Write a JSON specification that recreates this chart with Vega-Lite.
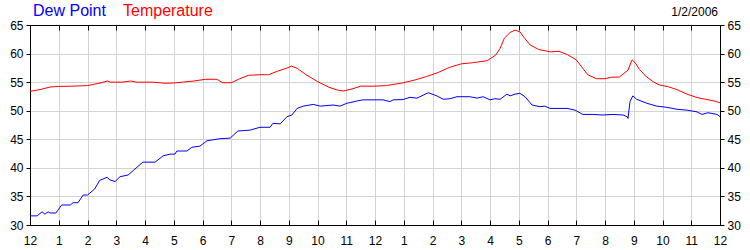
{
  "$schema": "https://vega.github.io/schema/vega-lite/v6.json",
  "width": 690,
  "height": 200,
  "autosize": {"type": "none"},
  "padding": {"left": 30, "top": 25, "right": 30, "bottom": 25},
  "background": "white",
  "title": {"text": "1/2/2006", "anchor": "end", "frame": "group", "fontSize": 12, "font": "Liberation Sans", "fontWeight": "normal", "color": "black", "offset": 8, "dy": 24, "dx": -2},
  "config": {
    "view": {"stroke": "black", "strokeWidth": 1},
    "axis": {"labelFont": "Liberation Sans", "labelFontSize": 12, "labelColor": "black", "domainColor": "black", "tickColor": "black", "gridColor": "#d3d3d3", "title": null, "labelFlush": false, "labelOverlap": false}
  },
  "data": {"values": [
    {"s":"Temperature","h":0,"v":53.4},{"s":"Temperature","h":0.35,"v":53.7},{"s":"Temperature","h":0.7,"v":54.15},{"s":"Temperature","h":1.0,"v":54.25},{"s":"Temperature","h":1.5,"v":54.3},{"s":"Temperature","h":2.0,"v":54.4},{"s":"Temperature","h":2.4,"v":54.8},{"s":"Temperature","h":2.7,"v":55.2},{"s":"Temperature","h":2.8,"v":55.0},{"s":"Temperature","h":3.2,"v":55.0},{"s":"Temperature","h":3.5,"v":55.2},{"s":"Temperature","h":3.7,"v":55.0},{"s":"Temperature","h":4.3,"v":55.0},{"s":"Temperature","h":4.7,"v":54.8},{"s":"Temperature","h":5.0,"v":54.85},{"s":"Temperature","h":5.3,"v":55.0},{"s":"Temperature","h":5.7,"v":55.2},{"s":"Temperature","h":6.1,"v":55.5},{"s":"Temperature","h":6.5,"v":55.5},{"s":"Temperature","h":6.7,"v":54.9},{"s":"Temperature","h":7.0,"v":54.9},{"s":"Temperature","h":7.3,"v":55.6},{"s":"Temperature","h":7.6,"v":56.2},{"s":"Temperature","h":8.0,"v":56.3},{"s":"Temperature","h":8.3,"v":56.3},{"s":"Temperature","h":8.6,"v":56.9},{"s":"Temperature","h":8.9,"v":57.4},{"s":"Temperature","h":9.1,"v":57.8},{"s":"Temperature","h":9.3,"v":57.4},{"s":"Temperature","h":9.6,"v":56.3},{"s":"Temperature","h":10.0,"v":55.1},{"s":"Temperature","h":10.4,"v":54.1},{"s":"Temperature","h":10.7,"v":53.6},{"s":"Temperature","h":10.9,"v":53.45},{"s":"Temperature","h":11.2,"v":53.8},{"s":"Temperature","h":11.5,"v":54.3},{"s":"Temperature","h":12.0,"v":54.3},{"s":"Temperature","h":12.4,"v":54.4},{"s":"Temperature","h":13.0,"v":54.9},{"s":"Temperature","h":13.4,"v":55.4},{"s":"Temperature","h":13.8,"v":56.0},{"s":"Temperature","h":14.2,"v":56.7},{"s":"Temperature","h":14.6,"v":57.6},{"s":"Temperature","h":15.0,"v":58.2},{"s":"Temperature","h":15.4,"v":58.4},{"s":"Temperature","h":15.9,"v":58.75},{"s":"Temperature","h":16.2,"v":59.75},{"s":"Temperature","h":16.35,"v":60.9},{"s":"Temperature","h":16.5,"v":62.7},{"s":"Temperature","h":16.7,"v":63.7},{"s":"Temperature","h":16.87,"v":64.1},{"s":"Temperature","h":17.04,"v":63.8},{"s":"Temperature","h":17.2,"v":62.7},{"s":"Temperature","h":17.4,"v":61.5},{"s":"Temperature","h":17.7,"v":60.7},{"s":"Temperature","h":18.1,"v":60.3},{"s":"Temperature","h":18.4,"v":60.4},{"s":"Temperature","h":18.7,"v":59.8},{"s":"Temperature","h":19.0,"v":58.9},{"s":"Temperature","h":19.2,"v":57.6},{"s":"Temperature","h":19.4,"v":56.3},{"s":"Temperature","h":19.7,"v":55.6},{"s":"Temperature","h":20.0,"v":55.6},{"s":"Temperature","h":20.2,"v":55.85},{"s":"Temperature","h":20.5,"v":55.9},{"s":"Temperature","h":20.8,"v":57.1},{"s":"Temperature","h":20.94,"v":58.9},{"s":"Temperature","h":21.05,"v":58.4},{"s":"Temperature","h":21.2,"v":57.2},{"s":"Temperature","h":21.45,"v":55.9},{"s":"Temperature","h":21.7,"v":55.0},{"s":"Temperature","h":21.9,"v":54.5},{"s":"Temperature","h":22.2,"v":54.2},{"s":"Temperature","h":22.5,"v":53.7},{"s":"Temperature","h":22.85,"v":52.9},{"s":"Temperature","h":23.2,"v":52.3},{"s":"Temperature","h":23.5,"v":52.0},{"s":"Temperature","h":23.8,"v":51.7},{"s":"Temperature","h":24.0,"v":51.4},
    {"s":"Dew Point","h":0,"v":31.6},{"s":"Dew Point","h":0.25,"v":31.6},{"s":"Dew Point","h":0.42,"v":32.3},{"s":"Dew Point","h":0.52,"v":31.9},{"s":"Dew Point","h":0.63,"v":32.3},{"s":"Dew Point","h":0.7,"v":32.1},{"s":"Dew Point","h":0.9,"v":32.1},{"s":"Dew Point","h":1.1,"v":33.5},{"s":"Dew Point","h":1.4,"v":33.5},{"s":"Dew Point","h":1.5,"v":33.9},{"s":"Dew Point","h":1.67,"v":33.9},{"s":"Dew Point","h":1.85,"v":35.25},{"s":"Dew Point","h":2.0,"v":35.25},{"s":"Dew Point","h":2.25,"v":36.3},{"s":"Dew Point","h":2.42,"v":37.8},{"s":"Dew Point","h":2.68,"v":38.35},{"s":"Dew Point","h":2.78,"v":37.9},{"s":"Dew Point","h":2.96,"v":37.6},{"s":"Dew Point","h":3.13,"v":38.45},{"s":"Dew Point","h":3.41,"v":38.75},{"s":"Dew Point","h":3.72,"v":40.1},{"s":"Dew Point","h":3.93,"v":41.0},{"s":"Dew Point","h":4.35,"v":41.0},{"s":"Dew Point","h":4.63,"v":42.1},{"s":"Dew Point","h":4.87,"v":42.4},{"s":"Dew Point","h":5.04,"v":42.4},{"s":"Dew Point","h":5.11,"v":42.95},{"s":"Dew Point","h":5.46,"v":42.95},{"s":"Dew Point","h":5.63,"v":43.6},{"s":"Dew Point","h":5.91,"v":43.8},{"s":"Dew Point","h":6.16,"v":44.75},{"s":"Dew Point","h":6.61,"v":45.1},{"s":"Dew Point","h":6.96,"v":45.2},{"s":"Dew Point","h":7.23,"v":46.45},{"s":"Dew Point","h":7.65,"v":46.6},{"s":"Dew Point","h":8.0,"v":47.1},{"s":"Dew Point","h":8.35,"v":47.1},{"s":"Dew Point","h":8.45,"v":47.8},{"s":"Dew Point","h":8.7,"v":47.7},{"s":"Dew Point","h":8.94,"v":48.95},{"s":"Dew Point","h":9.11,"v":49.25},{"s":"Dew Point","h":9.29,"v":50.4},{"s":"Dew Point","h":9.5,"v":50.8},{"s":"Dew Point","h":9.85,"v":51.1},{"s":"Dew Point","h":10.1,"v":50.8},{"s":"Dew Point","h":10.54,"v":51.0},{"s":"Dew Point","h":10.78,"v":50.8},{"s":"Dew Point","h":11.02,"v":51.3},{"s":"Dew Point","h":11.37,"v":51.7},{"s":"Dew Point","h":11.58,"v":51.9},{"s":"Dew Point","h":12.28,"v":51.9},{"s":"Dew Point","h":12.52,"v":51.6},{"s":"Dew Point","h":12.63,"v":51.9},{"s":"Dew Point","h":12.97,"v":51.95},{"s":"Dew Point","h":13.22,"v":52.35},{"s":"Dew Point","h":13.46,"v":52.2},{"s":"Dew Point","h":13.85,"v":53.15},{"s":"Dew Point","h":14.15,"v":52.6},{"s":"Dew Point","h":14.37,"v":52.0},{"s":"Dew Point","h":14.61,"v":52.1},{"s":"Dew Point","h":14.85,"v":52.45},{"s":"Dew Point","h":15.3,"v":52.45},{"s":"Dew Point","h":15.55,"v":52.2},{"s":"Dew Point","h":15.76,"v":52.45},{"s":"Dew Point","h":16.0,"v":51.9},{"s":"Dew Point","h":16.17,"v":52.1},{"s":"Dew Point","h":16.35,"v":52.0},{"s":"Dew Point","h":16.59,"v":52.9},{"s":"Dew Point","h":16.7,"v":52.6},{"s":"Dew Point","h":16.87,"v":52.9},{"s":"Dew Point","h":17.04,"v":53.05},{"s":"Dew Point","h":17.22,"v":52.45},{"s":"Dew Point","h":17.46,"v":51.0},{"s":"Dew Point","h":17.74,"v":50.7},{"s":"Dew Point","h":17.91,"v":50.8},{"s":"Dew Point","h":18.09,"v":50.4},{"s":"Dew Point","h":18.68,"v":50.4},{"s":"Dew Point","h":18.96,"v":50.1},{"s":"Dew Point","h":19.23,"v":49.35},{"s":"Dew Point","h":19.58,"v":49.35},{"s":"Dew Point","h":19.93,"v":49.25},{"s":"Dew Point","h":20.28,"v":49.35},{"s":"Dew Point","h":20.63,"v":49.25},{"s":"Dew Point","h":20.77,"v":48.95},{"s":"Dew Point","h":20.8,"v":48.65},{"s":"Dew Point","h":20.87,"v":51.6},{"s":"Dew Point","h":20.97,"v":52.6},{"s":"Dew Point","h":21.1,"v":52.0},{"s":"Dew Point","h":21.46,"v":51.3},{"s":"Dew Point","h":21.8,"v":50.8},{"s":"Dew Point","h":22.15,"v":50.6},{"s":"Dew Point","h":22.5,"v":50.25},{"s":"Dew Point","h":22.85,"v":50.1},{"s":"Dew Point","h":23.2,"v":49.8},{"s":"Dew Point","h":23.37,"v":49.35},{"s":"Dew Point","h":23.58,"v":49.65},{"s":"Dew Point","h":23.9,"v":49.35},{"s":"Dew Point","h":24.0,"v":48.95}
  ]},
  "layer": [
    {
      "transform": [{"filter": "datum.s === 'Temperature'"}],
      "mark": {"type": "line", "strokeWidth": 1},
      "encoding": {
        "x": {"field": "h", "type": "quantitative", "scale": {"domain": [0, 24], "nice": false, "zero": false},
          "axis": {"orient": "bottom", "values": [0,1,2,3,4,5,6,7,8,9,10,11,12,13,14,15,16,17,18,19,20,21,22,23,24], "labelExpr": "datum.value % 12 == 0 ? '12' : '' + (datum.value % 12)", "tickSize": -5, "labelPadding": 15, "grid": true}},
        "y": {"field": "v", "type": "quantitative", "scale": {"domain": [30, 65], "nice": false, "zero": false},
          "axis": {"orient": "left", "values": [30,35,40,45,50,55,60,65], "tickSize": 4, "labelPadding": 3, "grid": true}},
        "color": {"field": "s", "type": "nominal",
          "scale": {"domain": ["Dew Point", "Temperature"], "range": ["#0000ff", "#ff0000"]},
          "legend": {"orient": "none", "legendX": -13, "legendY": -22, "direction": "horizontal", "title": null, "symbolType": "circle", "symbolSize": 0, "symbolOpacity": 0, "symbolStrokeWidth": 0, "symbolOffset": 0, "labelOffset": 0, "columnPadding": 1, "labelFont": "Liberation Sans", "labelFontSize": 16, "labelLimit": 0,
            "encode": {"labels": {"update": {"fill": {"signal": "datum.value === 'Dew Point' ? '#0000ff' : '#ff0000'"}}}}}}
      }
    },
    {
      "transform": [{"filter": "datum.s === 'Dew Point'"}],
      "mark": {"type": "line", "strokeWidth": 1},
      "encoding": {
        "x": {"field": "h", "type": "quantitative",
          "axis": {"orient": "top", "values": [0,1,2,3,4,5,6,7,8,9,10,11,12,13,14,15,16,17,18,19,20,21,22,23,24], "labels": false, "tickSize": -5, "grid": false}},
        "y": {"field": "v", "type": "quantitative",
          "axis": {"orient": "right", "values": [30,35,40,45,50,55,60,65], "tickSize": 4, "labelPadding": 3, "grid": false}},
        "color": {"field": "s", "type": "nominal"}
      }
    }
  ],
  "resolve": {"axis": {"x": "independent", "y": "independent"}}
}
